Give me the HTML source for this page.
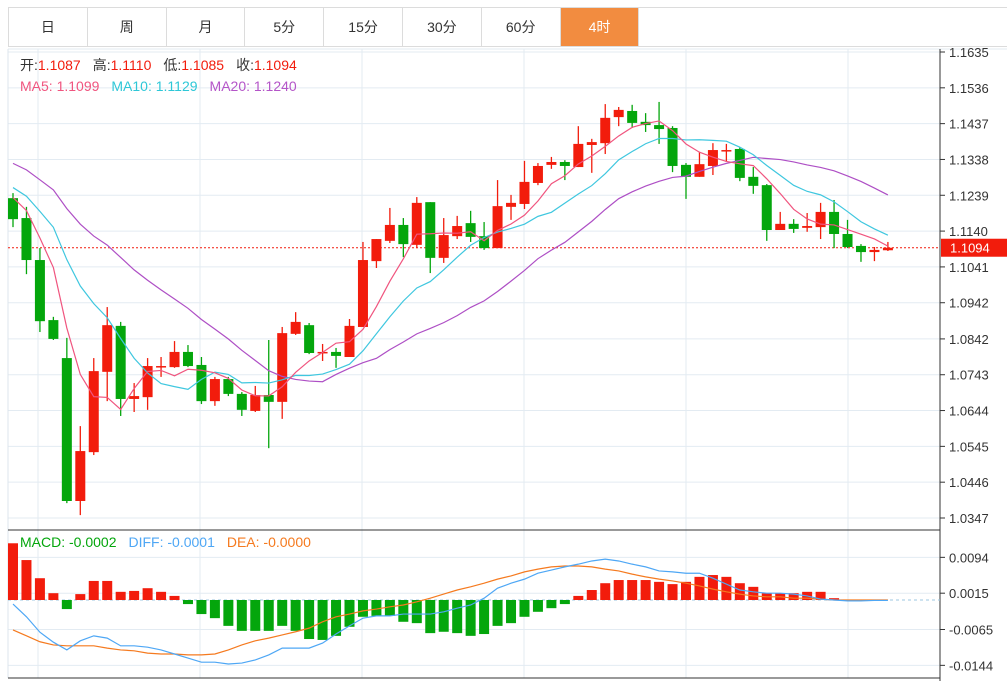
<!DOCTYPE html>
<html><head><meta charset="utf-8"><style>
body{margin:0;background:#fff;width:1007px;height:681px;overflow:hidden;font-family:"Liberation Sans","Noto Sans CJK SC",sans-serif}
.tabs{position:absolute;left:8px;top:7px;height:40px;width:999px;border:1px solid #dcdcdc;border-right:none;display:flex;box-sizing:border-box}
.tab{width:78.8px;border-right:1px solid #dcdcdc;box-sizing:border-box;text-align:center;line-height:38px;font-size:14px;color:#333}
.tab.on{background:#f28c40;color:#fff}
svg{position:absolute;left:0;top:0}
</style></head><body>
<div class="tabs">
<div class="tab">日</div>
<div class="tab">周</div>
<div class="tab">月</div>
<div class="tab">5分</div>
<div class="tab">15分</div>
<div class="tab">30分</div>
<div class="tab">60分</div>
<div class="tab on">4时</div>
</div>
<svg id="c" width="1007" height="681"></svg>
<script>
const opens=[1.1231,1.1176,1.1060,1.0894,1.0789,1.0394,1.0529,1.0751,1.0878,1.0676,1.0681,1.0764,1.0764,1.0806,1.0770,1.0670,1.0731,1.0690,1.0643,1.0687,1.0668,1.0856,1.0880,1.0803,1.0806,1.0792,1.0875,1.1057,1.1113,1.1157,1.1102,1.1220,1.1066,1.1126,1.1162,1.1126,1.1093,1.1207,1.1215,1.1273,1.1323,1.1331,1.1317,1.1378,1.1383,1.1455,1.1472,1.1442,1.1433,1.1425,1.1323,1.1290,1.1320,1.1361,1.1367,1.1290,1.1267,1.1143,1.1160,1.1149,1.1151,1.1193,1.1132,1.1099,1.1082,1.1087];
const highs=[1.1245,1.1207,1.1093,1.0903,1.0845,1.0601,1.0789,1.0930,1.0889,1.0720,1.0789,1.0792,1.0836,1.0825,1.0792,1.0737,1.0737,1.0695,1.0712,1.0839,1.0875,1.0916,1.0886,1.0828,1.0817,1.0897,1.1110,1.1118,1.1204,1.1176,1.1234,1.1220,1.1176,1.1182,1.1196,1.1165,1.1281,1.1240,1.1334,1.1328,1.1345,1.1336,1.1430,1.1395,1.1491,1.1483,1.1489,1.1466,1.1497,1.1430,1.1328,1.1359,1.1383,1.1381,1.1372,1.1317,1.1270,1.1193,1.1173,1.1190,1.1218,1.1226,1.1171,1.1104,1.1096,1.1110];
const lows=[1.1151,1.1021,1.0861,1.0839,1.0388,1.0355,1.0521,1.0670,1.0629,1.0640,1.0646,1.0737,1.0762,1.0764,1.0662,1.0657,1.0684,1.0629,1.0640,1.0540,1.0621,1.0853,1.0800,1.0781,1.0762,1.0792,1.0875,1.1038,1.1107,1.1068,1.1093,1.1024,1.1052,1.1118,1.1110,1.1088,1.1093,1.1171,1.1201,1.1267,1.1312,1.1281,1.1317,1.1301,1.1353,1.1430,1.1425,1.1414,1.1381,1.1303,1.1229,1.1290,1.1295,1.1331,1.1278,1.1243,1.1113,1.1143,1.1135,1.1138,1.1118,1.1093,1.1093,1.1055,1.1057,1.1085];
const closes=[1.1173,1.1060,1.0891,1.0842,1.0394,1.0532,1.0753,1.0880,1.0676,1.0684,1.0767,1.0767,1.0806,1.0767,1.0670,1.0731,1.0690,1.0646,1.0687,1.0668,1.0858,1.0889,1.0803,1.0806,1.0795,1.0878,1.1060,1.1118,1.1157,1.1104,1.1218,1.1066,1.1129,1.1154,1.1124,1.1093,1.1209,1.1218,1.1276,1.1320,1.1331,1.1320,1.1381,1.1386,1.1453,1.1475,1.1439,1.1433,1.1422,1.1320,1.1290,1.1325,1.1364,1.1364,1.1287,1.1265,1.1143,1.1160,1.1146,1.1154,1.1193,1.1132,1.1096,1.1082,1.1088,1.1094];
const priorCloses=[1.1420,1.1440,1.1400,1.1430,1.1390,1.1410,1.1380,1.1360,1.1370,1.1340,1.1300,1.1310,1.1280,1.1290,1.1260,1.1240,1.1270,1.1250,1.1230];
const priceTicks=[1.1635,1.1536,1.1437,1.1338,1.1239,1.1140,1.1041,1.0942,1.0842,1.0743,1.0644,1.0545,1.0446,1.0347];
const macdHist=[.0125,.0088,.0048,.0015,-.0020,.0013,.0042,.0042,.0018,.0020,.0026,.0018,.0009,-.0009,-.0031,-.0040,-.0057,-.0068,-.0068,-.0068,-.0057,-.0068,-.0086,-.0088,-.0079,-.0059,-.0037,-.0035,-.0035,-.0048,-.0051,-.0073,-.0070,-.0073,-.0079,-.0075,-.0057,-.0051,-.0037,-.0026,-.0018,-.0009,.0009,.0022,.0037,.0044,.0044,.0044,.0040,.0035,.0040,.0051,.0055,.0051,.0037,.0029,.0015,.0015,.0015,.0018,.0018,.0004,.0001,0,0,0];
const diffVals=[-.0009,-.0037,-.0071,-.0093,-.0110,-.0090,-.0079,-.0084,-.0101,-.0101,-.0104,-.0110,-.0119,-.0128,-.0137,-.0137,-.0141,-.0139,-.0132,-.0121,-.0106,-.0106,-.0106,-.0095,-.0075,-.0057,-.0040,-.0035,-.0035,-.0031,-.0031,-.0031,-.0026,-.0018,-.0011,.0004,.0026,.0037,.0046,.0059,.0066,.0073,.0079,.0086,.0090,.0086,.0079,.0073,.0064,.0062,.0059,.0059,.0048,.0035,.0022,.0018,.0015,.0015,.0013,.0009,.0002,0,-.0002,-.0002,-.0001,-.0001];
const deaVals=[-.0066,-.0079,-.0092,-.0099,-.0101,-.0101,-.0101,-.0106,-.0110,-.0112,-.0117,-.0119,-.0119,-.0121,-.0121,-.0119,-.0110,-.0099,-.0090,-.0084,-.0077,-.0070,-.0062,-.0048,-.0037,-.0031,-.0024,-.0020,-.0015,-.0011,-.0004,.0004,.0013,.0022,.0029,.0037,.0046,.0053,.0062,.0068,.0073,.0075,.0075,.0073,.0068,.0064,.0057,.0051,.0046,.0042,.0037,.0031,.0024,.0018,.0013,.0009,.0007,.0007,.0004,.0004,.0002,0,0,0,0,0];
const macdTicks=[0.0094,0.0015,-0.0065,-0.0144];

const NS="http://www.w3.org/2000/svg",svg=document.getElementById('c');
function mk(t,a,p){const e=document.createElementNS(NS,t);for(const k in a)e.setAttribute(k,a[k]);(p||svg).appendChild(e);return e;}
const X=i=>13+i*13.46;
const Y=p=>52+(1.1635-p)*3618;
const MY=v=>600-v*4538;
const RED="#f21c0c",GREEN="#04a60c";
for(const t of priceTicks){const g=mk('line',{x1:8,x2:940,y1:Y(t),y2:Y(t),stroke:'#e3ebf2'});}
for(const t of macdTicks){const g=mk('line',{x1:8,x2:940,y1:MY(t),y2:MY(t),stroke:'#e3ebf2'});}
for(let k=0;k<6;k++){const g=mk('line',{x1:38+162*k,x2:38+162*k,y1:49,y2:678,stroke:'#e3ebf2'});}
mk('line',{x1:8,x2:1007,y1:49,y2:49,stroke:'#e3ebf2'});
mk('line',{x1:8,x2:8,y1:49,y2:678,stroke:'#dde5ec'});
mk('line',{x1:940,x2:940,y1:49,y2:681,stroke:'#333'});
mk('line',{x1:8,x2:940,y1:530,y2:530,stroke:'#333'});
mk('line',{x1:8,x2:940,y1:678,y2:678,stroke:'#333'});
for(const t of priceTicks){mk('line',{x1:940,x2:945,y1:Y(t),y2:Y(t),stroke:'#333'});
const tx=mk('text',{x:949,y:Y(t)+5,'font-size':13,fill:'#333'});tx.textContent=t.toFixed(4);
}
for(const t of macdTicks){mk('line',{x1:940,x2:945,y1:MY(t),y2:MY(t),stroke:'#333'});
const tx=mk('text',{x:949,y:MY(t)+5,'font-size':13,fill:'#333'});tx.textContent=t.toFixed(4);
}
const last=closes[closes.length-1];
const pl=mk('line',{x1:8,x2:940,y1:Y(last),y2:Y(last),stroke:RED,'stroke-dasharray':'2,2'});

mk('rect',{x:941,y:Y(last)-9,width:66,height:18,fill:RED});
const lt=mk('text',{x:950,y:Y(last)+5,'font-size':13,fill:'#fff'});lt.textContent=last.toFixed(4);

for(let i=0;i<closes.length;i++){const up=closes[i]>=opens[i],c=up?RED:GREEN;
const g=mk('g',{});
mk('line',{x1:X(i),x2:X(i),y1:Y(highs[i]),y2:Y(lows[i]),stroke:c,'stroke-width':1.3},g);
const top=Y(Math.max(opens[i],closes[i])),bot=Y(Math.min(opens[i],closes[i]));
mk('rect',{x:X(i)-5,y:top,width:10,height:Math.max(1.5,bot-top),fill:c},g);}
const all=priorCloses.concat(closes);
function ma(n,col,name){let pts=[];for(let i=0;i<closes.length;i++){const j=i+priorCloses.length;let s=0,c=0;for(let k=Math.max(0,j-n+1);k<=j;k++){s+=all[k];c++;}pts.push(X(i)+','+Y(s/c));}
const l=mk('polyline',{points:pts.join(' '),fill:'none',stroke:col,'stroke-width':1.2});}
ma(20,'#ae4fc5','ma20-line');ma(10,'#3fc7df','ma10-line');ma(5,'#f0557f','ma5-line');
mk('line',{x1:8,x2:940,y1:MY(0),y2:MY(0),stroke:'#9cc7e0','stroke-dasharray':'3,3'});
for(let i=0;i<macdHist.length;i++){const v=macdHist[i];if(v===0)continue;const y0=MY(0),y1=MY(v);
const b=mk('rect',{x:X(i)-5,y:Math.min(y0,y1),width:10,height:Math.abs(y1-y0),fill:v>0?RED:GREEN});
}
function line(arr,col,name){const l=mk('polyline',{points:arr.map((v,i)=>X(i)+','+MY(v)).join(' '),fill:'none',stroke:col,'stroke-width':1.2});}
line(deaVals,'#f57a1f','dea-line');line(diffVals,'#4ea7f5','diff-line');
</script>
<svg width="1007" height="681" style="pointer-events:none">
<text x="20" y="70" font-size="14"><tspan fill="#333">开:</tspan><tspan fill="#f21c0c">1.1087</tspan><tspan fill="#333" dx="12">高:</tspan><tspan fill="#f21c0c">1.1110</tspan><tspan fill="#333" dx="12">低:</tspan><tspan fill="#f21c0c">1.1085</tspan><tspan fill="#333" dx="12">收:</tspan><tspan fill="#f21c0c">1.1094</tspan></text>
<text x="20" y="91" font-size="14"><tspan fill="#f0557f">MA5: 1.1099</tspan><tspan fill="#2ec7d7" dx="12">MA10: 1.1129</tspan><tspan fill="#b455c8" dx="12">MA20: 1.1240</tspan></text>
<text x="20" y="547" font-size="14"><tspan fill="#04a60c">MACD: -0.0002</tspan><tspan fill="#4ea7f5" dx="12">DIFF: -0.0001</tspan><tspan fill="#f57a1f" dx="12">DEA: -0.0000</tspan></text>
</svg>
</body></html>
